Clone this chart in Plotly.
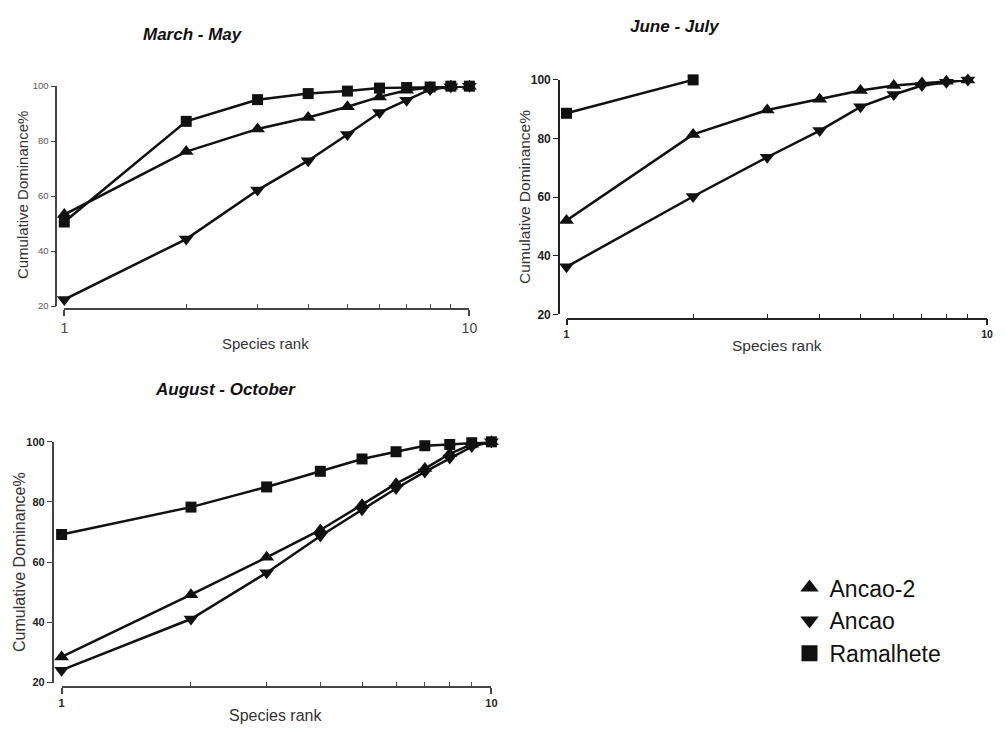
import plotly.graph_objects as go

W, H = 1005, 731

# ---------------- data ----------------
ranks10 = [1, 2, 3, 4, 5, 6, 7, 8, 9, 10]
ranks9 = [1, 2, 3, 4, 5, 6, 7, 8, 9]
ranks2 = [1, 2]

mm_ancao2 = [53.3, 76.2, 84.4, 88.6, 92.5, 96.1, 98.5, 99.5, 100, 100]
mm_ancao = [22.4, 44.4, 62.2, 72.9, 82.4, 90.4, 94.9, 98.8, 99.8, 100]
mm_ramalhete = [50.6, 87.2, 95.1, 97.3, 98.2, 99.3, 99.5, 99.7, 100, 100]

jj_ancao2 = [52.0, 81.4, 89.7, 93.4, 96.4, 98.1, 98.9, 99.5, 100]
jj_ancao = [36.2, 60.2, 73.6, 82.7, 90.8, 95.0, 98.1, 99.2, 100]
jj_ramalhete = [88.6, 100]

ao_ancao2 = [28.5, 49.2, 61.6, 70.7, 79.1, 86.1, 91.1, 96.0, 99.2, 100]
ao_ancao = [24.1, 41.1, 56.5, 68.7, 77.4, 84.5, 90.0, 94.6, 98.4, 100]
ao_ramalhete = [69.2, 78.3, 85.0, 90.2, 94.3, 96.7, 98.7, 99.1, 99.7, 100]

series_names = ["Ancao-2", "Ancao", "Ramalhete"]
symbols = ["triangle-up", "triangle-down", "square"]
y_ticks = [20, 40, 60, 80, 100]
x_ticks = [1, 10]
x_minor = [2, 3, 4, 5, 6, 7, 8, 9]

panels = [
    dict(title="March - May", title_xy=(191, 28),
         data=[(ranks10, mm_ancao2), (ranks10, mm_ancao), (ranks10, mm_ramalhete)],
         x_px=(61, 471), y_px=(80.7, 305), yline=53, xline=308,
         ytitle_xy=(19, 192), xtitle_xy=(265, 343), tsize=15,
         ytick_font=dict(size=9.5, color="#555", weight="normal"),
         xtick_font=dict(size=14, color="#444", weight="normal"),
         linecolor="#444"),
    dict(title="June - July", title_xy=(679, 20),
         data=[(ranks9, jj_ancao2), (ranks9, jj_ancao), (ranks2, jj_ramalhete)],
         x_px=(569.3, 995), y_px=(74.3, 313.3), yline=561.7, xline=317.7,
         ytitle_xy=(527, 194), xtitle_xy=(782, 345), tsize=15.5,
         ytick_font=dict(size=12, color="#222", weight="bold"),
         xtick_font=dict(size=10.5, color="#222", weight="bold"),
         linecolor="#222"),
    dict(title="August - October", title_xy=(224, 390),
         data=[(ranks10, ao_ancao2), (ranks10, ao_ancao), (ranks10, ao_ramalhete)],
         x_px=(58.3, 493.3), y_px=(443.3, 688.7), yline=49.3, xline=693.3,
         ytitle_xy=(15, 566), xtitle_xy=(275, 722), tsize=16,
         ytick_font=dict(size=11, color="#222", weight="bold"),
         xtick_font=dict(size=11, color="#222", weight="bold"),
         linecolor="#444"),
]

FONT = "Liberation Sans, Arial, Helvetica, sans-serif"

fig = go.Figure()
annotations = []

for i, p in enumerate(panels):
    n = i + 1
    xa = "x" if n == 1 else f"x{n}"
    ya = "y" if n == 1 else f"y{n}"
    for (xs, ys), name, sym in zip(p["data"], series_names, symbols):
        fig.add_trace(go.Scatter(
            x=xs, y=ys, xaxis=xa, yaxis=ya, mode="lines+markers",
            name=name, showlegend=False, cliponaxis=False,
            line=dict(color="#111", width=2.5),
            marker=dict(symbol=sym, size=11 if sym == "square" else 13, color="#111"),
        ))
    xkey = "xaxis" if n == 1 else f"xaxis{n}"
    ykey = "yaxis" if n == 1 else f"yaxis{n}"
    fig.update_layout(**{
        xkey: dict(
            type="log", range=[0, 1],
            domain=[p["x_px"][0] / W, p["x_px"][1] / W],
            anchor="free", position=1 - p["xline"] / H,
            tickmode="array", tickvals=x_ticks, ticktext=["1", "10"],
            ticks="outside", ticklen=6, tickwidth=1.5, tickcolor=p["linecolor"],
            minor=dict(tickmode="array", tickvals=x_minor, ticks="inside",
                       ticklen=4, tickwidth=1, tickcolor=p["linecolor"], showgrid=False),
            showline=True, linecolor=p["linecolor"], linewidth=1.6,
            showgrid=False, zeroline=False,
            tickfont=dict(family=FONT, **p["xtick_font"]),
        ),
        ykey: dict(
            range=[20, 100],
            domain=[1 - p["y_px"][1] / H, 1 - p["y_px"][0] / H],
            anchor="free", position=p["yline"] / W,
            tickmode="array", tickvals=y_ticks,
            ticks="outside", ticklen=5, tickwidth=1.2, tickcolor=p["linecolor"],
            showline=True, linecolor=p["linecolor"], linewidth=1.6,
            showgrid=False, zeroline=False,
            tickfont=dict(family=FONT, **p["ytick_font"]),
        ),
    })
    tx, ty = p["title_xy"]
    annotations.append(dict(
        text=f"<b><i>{p['title']}</i></b>", x=tx / W, y=1 - ty / H,
        xref="paper", yref="paper", xanchor="center", yanchor="middle",
        showarrow=False, font=dict(family=FONT, size=17, color="#111")))
    yx, yy = p["ytitle_xy"]
    annotations.append(dict(
        text="Cumulative Dominance%", x=yx / W, y=1 - yy / H, textangle=-90,
        xref="paper", yref="paper", xanchor="center", yanchor="middle",
        showarrow=False, font=dict(family=FONT, size=p["tsize"], color="#333")))
    xx, xy = p["xtitle_xy"]
    annotations.append(dict(
        text="Species rank", x=xx / W, y=1 - xy / H,
        xref="paper", yref="paper", xanchor="center", yanchor="middle",
        showarrow=False, font=dict(family=FONT, size=p["tsize"], color="#333")))

# legend-only traces
for name, sym in zip(series_names, symbols):
    fig.add_trace(go.Scatter(
        x=[None], y=[None], mode="markers", name=name, showlegend=True,
        marker=dict(symbol=sym, size=20, color="#111"),
    ))

fig.update_layout(
    width=W, height=H,
    margin=dict(l=0, r=0, t=0, b=0),
    paper_bgcolor="white", plot_bgcolor="white",
    annotations=annotations,
    showlegend=True,
    legend=dict(x=795 / W, y=1 - 570 / H, xanchor="left", yanchor="top",
                font=dict(family=FONT, size=23, color="#111"),
                bgcolor="rgba(0,0,0,0)", itemsizing="trace"),
)

fig.write_html("out.html")
